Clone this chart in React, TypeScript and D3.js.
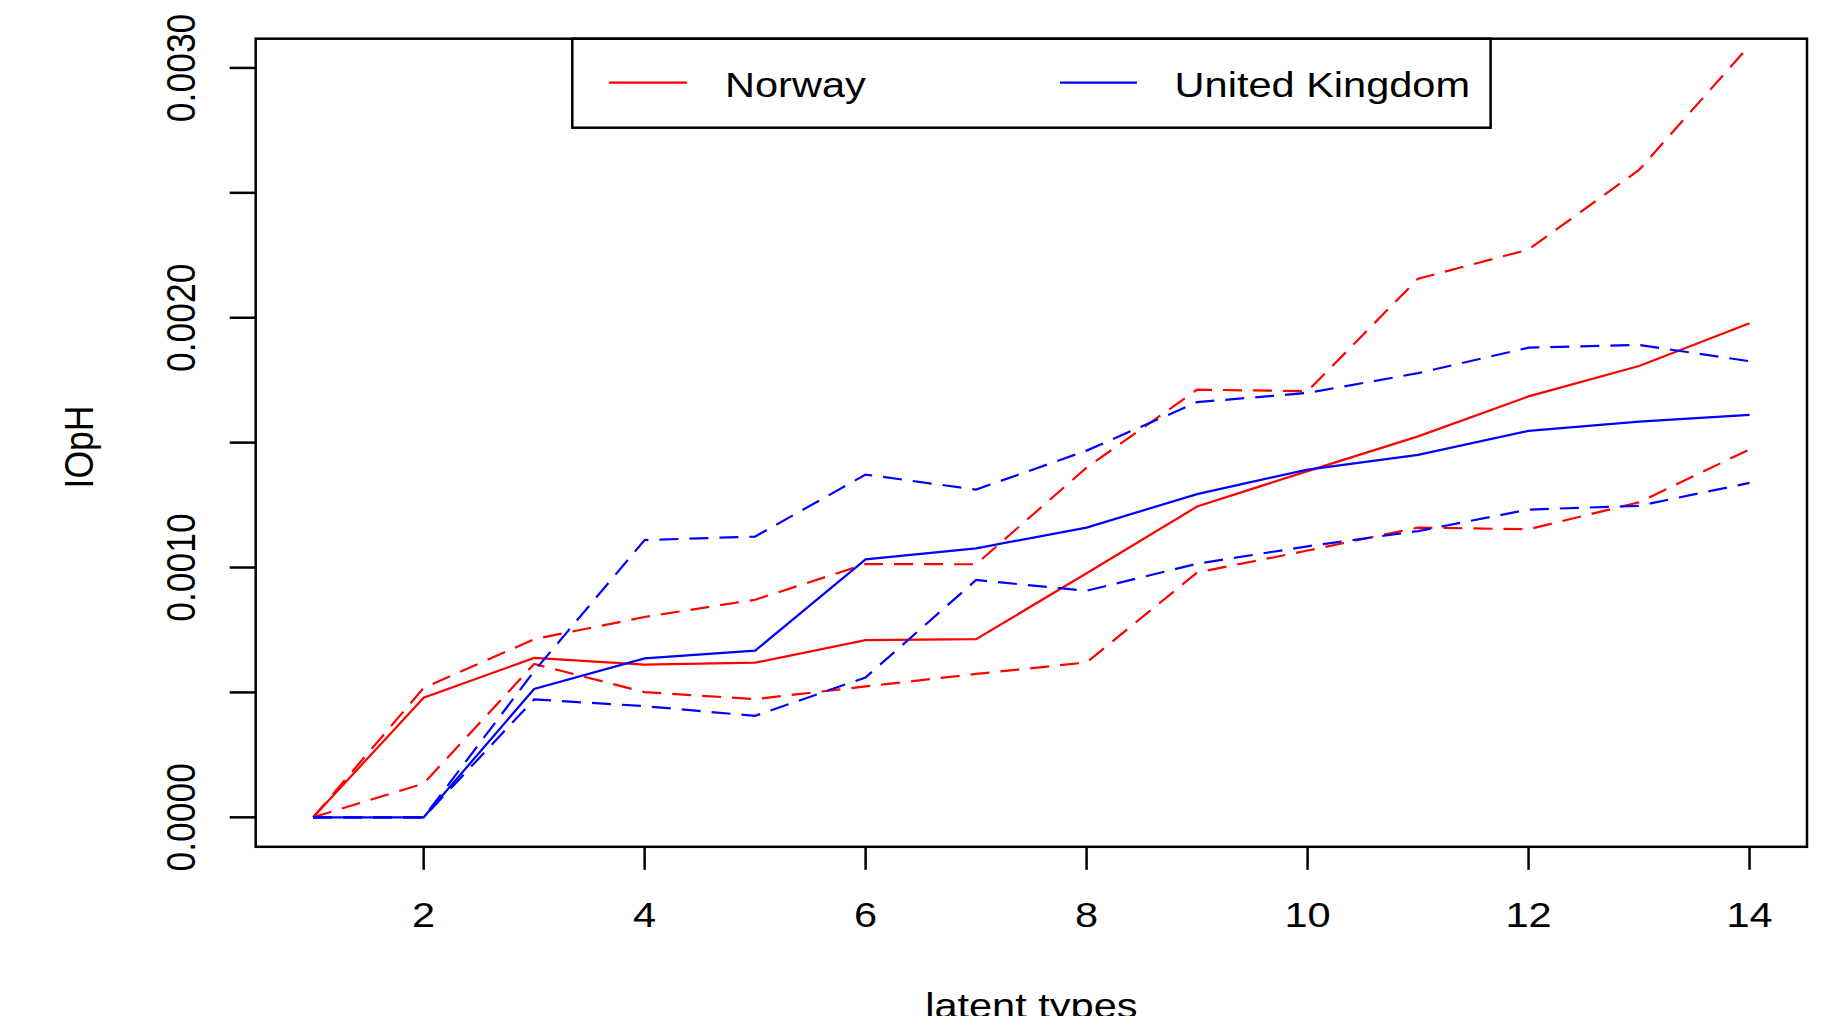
import React from 'react';
import * as d3 from 'd3';

// latent types on the x axis
const latentTypes = [1, 2, 3, 4, 5, 6, 7, 8, 9, 10, 11, 12, 13, 14];

// Norway: estimate and band (dashed)
const norwayMean = [0, 0.000479, 0.000638, 0.000611, 0.000619, 0.000709, 0.000713, 0.000977, 0.001244, 0.001386, 0.001525, 0.001685, 0.001807, 0.001978];
const norwayUpper = [0, 0.000518, 0.000713, 0.000802, 0.000871, 0.001014, 0.001013, 0.0014, 0.001712, 0.001706, 0.002156, 0.002273, 0.002592, 0.00309];
const norwayLower = [0, 0.000135, 0.000614, 0.000501, 0.000473, 0.000524, 0.000574, 0.00062, 0.00098, 0.001068, 0.00116, 0.001153, 0.001261, 0.001473];

// United Kingdom: estimate and band (dashed)
const ukMean = [0, 0, 0.000514, 0.000636, 0.000667, 0.001033, 0.001077, 0.00116, 0.001294, 0.001392, 0.001451, 0.001547, 0.001584, 0.001611];
const ukUpper = [0, 0, 0.000585, 0.00111, 0.001124, 0.001372, 0.001312, 0.001468, 0.001662, 0.001699, 0.001778, 0.00188, 0.001891, 0.001826];
const ukLower = [0, 0, 0.000472, 0.000445, 0.000406, 0.00056, 0.00095, 0.000907, 0.001015, 0.001085, 0.001146, 0.001232, 0.001247, 0.001339];

const xTicks = [2, 4, 6, 8, 10, 12, 14];
const yTicks = [0, 0.0005, 0.001, 0.0015, 0.002, 0.0025, 0.003];
const yLabelled = ['0.0000', '', '0.0010', '', '0.0020', '', '0.0030'];

const W = 1839;
const H = 1016;
const left = 255.7, right = 1807, top = 38.7, bottom = 846.8;
const FONT = '"Liberation Sans", Arial, Helvetica, sans-serif';
const FS = 35.5;
const SX = 1.17; // the original is stretched sideways
const DASH = '19 11';

export default function App() {
  const x = d3.scaleLinear().domain([0.48, 14.52]).range([left, right]);
  const y = d3.scaleLinear().domain([-0.000118, 0.003117]).range([bottom, top]);

  const line = d3.line<number>()
    .x((d, i) => x(latentTypes[i]))
    .y(d => y(d));

  const series = [
    {vals: norwayMean, color: '#ff0000', dash: null},
    {vals: norwayUpper, color: '#ff0000', dash: DASH},
    {vals: norwayLower, color: '#ff0000', dash: DASH},
    {vals: ukMean, color: '#0000ff', dash: null},
    {vals: ukUpper, color: '#0000ff', dash: DASH},
    {vals: ukLower, color: '#0000ff', dash: DASH},
  ];

  const txt = (s, tx, ty, anchor, rot) => (
    <text
      transform={`translate(${tx},${ty}) scale(${SX},1)` + (rot ? ' rotate(-90)' : '')}
      textAnchor={anchor}
      fontFamily={FONT}
      fontSize={FS}
      fill="#000"
    >{s}</text>
  );

  return (
    <div style={{position: 'absolute', left: 0, top: 0}}>
      <svg width={W} height={H} style={{display: 'block', background: '#fff'}}>
        <defs>
          <clipPath id="plotArea">
            <rect x={left} y={top} width={right - left} height={bottom - top} />
          </clipPath>
        </defs>

        <g clipPath="url(#plotArea)">
          {series.map((s, i) => (
            <path key={i} d={line(s.vals)} fill="none" stroke={s.color}
              strokeWidth={2.2} strokeDasharray={s.dash || undefined} />
          ))}
        </g>

        {/* legend */}
        <rect x={572.3} y={38.7} width={1490.6 - 572.3} height={127.7 - 38.7}
          fill="none" stroke="#000" strokeWidth={2.5} />
        <line x1={609} x2={687} y1={82.7} y2={82.7} stroke="#ff0000" strokeWidth={2.2} />
        {txt('Norway', 725, 96.7, 'start', false)}
        <line x1={1060} x2={1137} y1={82.7} y2={82.7} stroke="#0000ff" strokeWidth={2.2} />
        {txt('United Kingdom', 1174.6, 96.7, 'start', false)}

        {/* box */}
        <rect x={left} y={top} width={right - left} height={bottom - top}
          fill="none" stroke="#000" strokeWidth={2.5} />

        {/* x axis */}
        {xTicks.map(t => (
          <g key={t}>
            <line x1={x(t)} x2={x(t)} y1={bottom} y2={bottom + 23} stroke="#000" strokeWidth={2.5} />
            {txt(String(t), x(t), 927, 'middle', false)}
          </g>
        ))}

        {/* y axis */}
        {yTicks.map((t, i) => (
          <g key={t}>
            <line x1={left - 26} x2={left} y1={y(t)} y2={y(t)} stroke="#000" strokeWidth={2.5} />
            {yLabelled[i] && txt(yLabelled[i], 195, y(t), 'middle', true)}
          </g>
        ))}

        {/* x title runs off the bottom edge, as in the original */}
        {txt('latent types', (left + right) / 2, 1018, 'middle', false)}
        {txt('IOpH', 93.3, 447, 'middle', true)}
      </svg>
    </div>
  );
}
